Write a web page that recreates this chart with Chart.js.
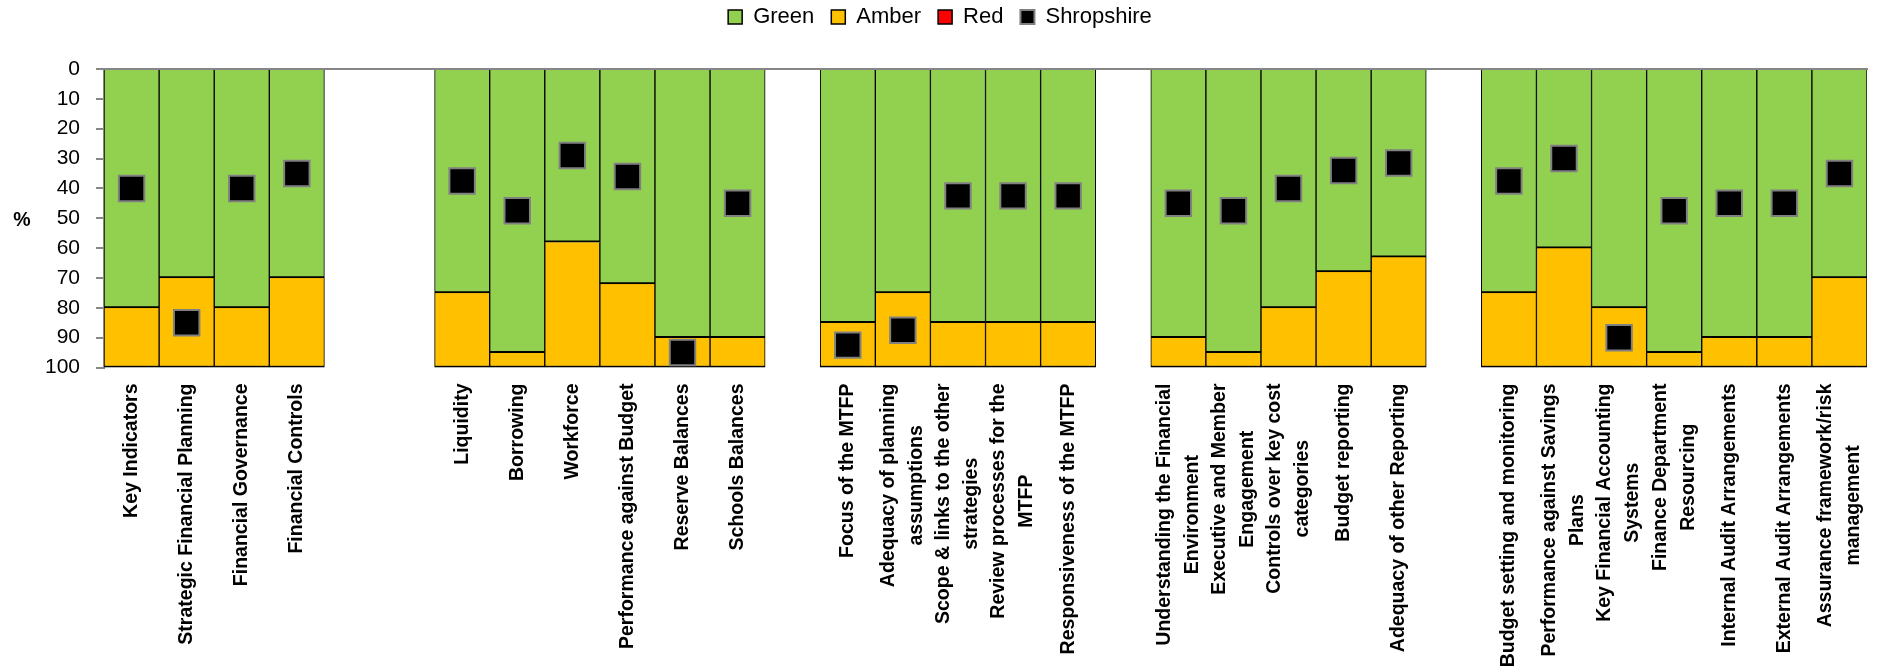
<!DOCTYPE html>
<html>
<head>
<meta charset="utf-8">
<script src="https://cdn.jsdelivr.net/npm/chart.js@4.4.1/dist/chart.umd.min.js"></script>
<style>
  html, body { margin: 0; padding: 0; overflow: hidden; background: #fff; }
  #ragChart { display: block; }
</style>
</head>
<body>
<canvas id="ragChart" width="1877" height="672"></canvas>
<script>
// Categories (empty strings are the gaps between groups)
const categories = [
    'Key Indicators', 'Strategic Financial Planning', 'Financial Governance', 'Financial Controls',
    '', '',
    'Liquidity', 'Borrowing', 'Workforce', 'Performance against Budget', 'Reserve Balances', 'Schools Balances',
    '',
    'Focus of the MTFP', ['Adequacy of planning', 'assumptions'], ['Scope & links to the other', 'strategies'],
    ['Review processes for the', 'MTFP'], 'Responsiveness of the MTFP',
    '',
    ['Understanding the Financial', 'Environment'], ['Executive and Member', 'Engagement'],
    ['Controls over key cost', 'categories'], 'Budget reporting', 'Adequacy of other Reporting',
    '',
    'Budget setting and monitoring', ['Performance against Savings', 'Plans'], ['Key Financial Accounting', 'Systems'],
    ['Finance Department', 'Resourcing'], 'Internal Audit Arrangements', 'External Audit Arrangements',
    ['Assurance framework/risk', 'management']
];

// Series values (%)
const greenData = [80, 70, 80, 70, null, null, 75, 95, 58, 72, 90, 90, null, 85, 75, 85, 85, 85, null,
    90, 95, 80, 68, 63, null, 75, 60, 80, 95, 90, 90, 70];
const amberData = [20, 30, 20, 30, null, null, 25, 5, 42, 28, 10, 10, null, 15, 25, 15, 15, 15, null,
    10, 5, 20, 32, 37, null, 25, 40, 20, 5, 10, 10, 30];
const redData = [0, 0, 0, 0, null, null, 0, 0, 0, 0, 0, 0, null, 0, 0, 0, 0, 0, null,
    0, 0, 0, 0, 0, null, 0, 0, 0, 0, 0, 0, 0];
const shropshireData = [40, 85, 40, 35, null, null, 37.5, 47.5, 29, 36, 95, 45, null, 92.5, 87.5, 42.5, 42.5, 42.5, null,
    45, 47.5, 40, 34, 31.5, null, 37.5, 30, 90, 47.5, 45, 45, 35];

// Y axis tick labels
const yTicks = [0, 10, 20, 30, 40, 50, 60, 70, 80, 90, 100];

Chart.defaults.font.family = "'Liberation Sans', Arial, sans-serif";
Chart.defaults.color = '#000';

const barBorder = {top: 2, bottom: 2, left: 1, right: 1};

// Setup block
const ragData = {
    labels: categories,
    datasets: [{
        label: 'Green',
        data: greenData,
        backgroundColor: '#92D050',
        borderColor: '#000',
        borderWidth: barBorder,
        order: 1
    }, {
        label: 'Amber',
        data: amberData,
        backgroundColor: '#FFC000',
        borderColor: '#000',
        borderWidth: barBorder,
        order: 1
    }, {
        label: 'Red',
        data: redData,
        backgroundColor: '#FF0000',
        borderColor: '#000',
        borderWidth: barBorder,
        order: 1
    }, {
        type: 'line',
        label: 'Shropshire',
        data: shropshireData,
        stack: 'marker',
        showLine: false,
        backgroundColor: '#000',
        borderColor: '#808080',
        borderWidth: 2,
        pointStyle: 'rect',
        pointRadius: 18,
        pointHoverRadius: 18,
        pointBackgroundColor: '#000',
        pointBorderColor: '#808080',
        pointBorderWidth: 2,
        order: 0
    }]
};

// Legend Margin plugin block: gap between legend and plot, small shift left
const legendMargin = {
    id: 'legendMargin',
    beforeInit(chart) {
        const fitValue = chart.legend.fit;
        chart.legend.fit = function fit() {
            fitValue.bind(chart.legend)();
            this.height += 31;
        };
    },
    afterLayout(chart) {
        chart.legend.left -= 8;
        chart.legend.right -= 8;
    }
};

// Rotated category labels under the bars, lines centred like the original
const categoryLabels = {
    id: 'categoryLabels',
    afterDraw(chart) {
        const {ctx, chartArea, scales: {x}} = chart;
        ctx.save();
        ctx.fillStyle = '#000';
        ctx.font = "bold 19.5px 'Liberation Sans', Arial, sans-serif";
        ctx.textAlign = 'center';
        ctx.textBaseline = 'middle';
        categories.forEach((label, i) => {
            const lines = Array.isArray(label) ? label : [label];
            if (!lines[0]) return;
            const px = x.getPixelForValue(i);
            const w = Math.max(...lines.map(l => ctx.measureText(l).width));
            lines.forEach((line, j) => {
                ctx.save();
                ctx.translate(px + (j - (lines.length - 1) / 2) * 28, chartArea.bottom + 16 + w / 2);
                ctx.rotate(-Math.PI / 2);
                ctx.fillText(line, 0, 0);
                ctx.restore();
            });
        });
        // axis title, not rotated
        ctx.fillText('%', 22, (chartArea.top + chartArea.bottom) / 2 + 2);
        ctx.restore();
    }
};

// Config block
const ragConfig = {
    type: 'bar',
    data: ragData,
    options: {
        responsive: false,
        animation: false,
        datasets: {
            bar: {barPercentage: 1, categoryPercentage: 1}
        },
        layout: {
            autoPadding: false,  // markers must not push the plot edge in
            padding: {top: -11, left: 29, right: 10, bottom: 304.5}
        },
        plugins: {
            legend: {
                position: 'top',
                onClick: null,
                labels: {
                    boxWidth: 14,
                    boxHeight: 14,
                    padding: 17,
                    font: {size: 22},
                    sort: (a, b) => a.datasetIndex - b.datasetIndex
                }
            },
            tooltip: {enabled: false}
        },
        scales: {
            x: {
                position: 'top',
                stacked: true,
                z: 1,
                grid: {display: false, drawTicks: false},
                border: {color: '#868686', width: 2},
                ticks: {display: false}
            },
            y: {
                reverse: true,
                stacked: true,
                min: yTicks[0],
                max: yTicks[yTicks.length - 1],
                z: 1,
                afterBuildTicks: scale => {
                    scale.ticks = yTicks.map(v => ({value: v}));
                },
                grid: {drawOnChartArea: false, color: '#868686', lineWidth: 2, tickLength: 8},
                border: {color: '#868686', width: 2},
                ticks: {font: {size: 21}, padding: 16, color: '#000'}
            }
        }
    },
    plugins: [legendMargin, categoryLabels]
};

// render / init block
const ragChart = new Chart(
    document.getElementById('ragChart'),
    ragConfig
);
</script>
</body>
</html>
